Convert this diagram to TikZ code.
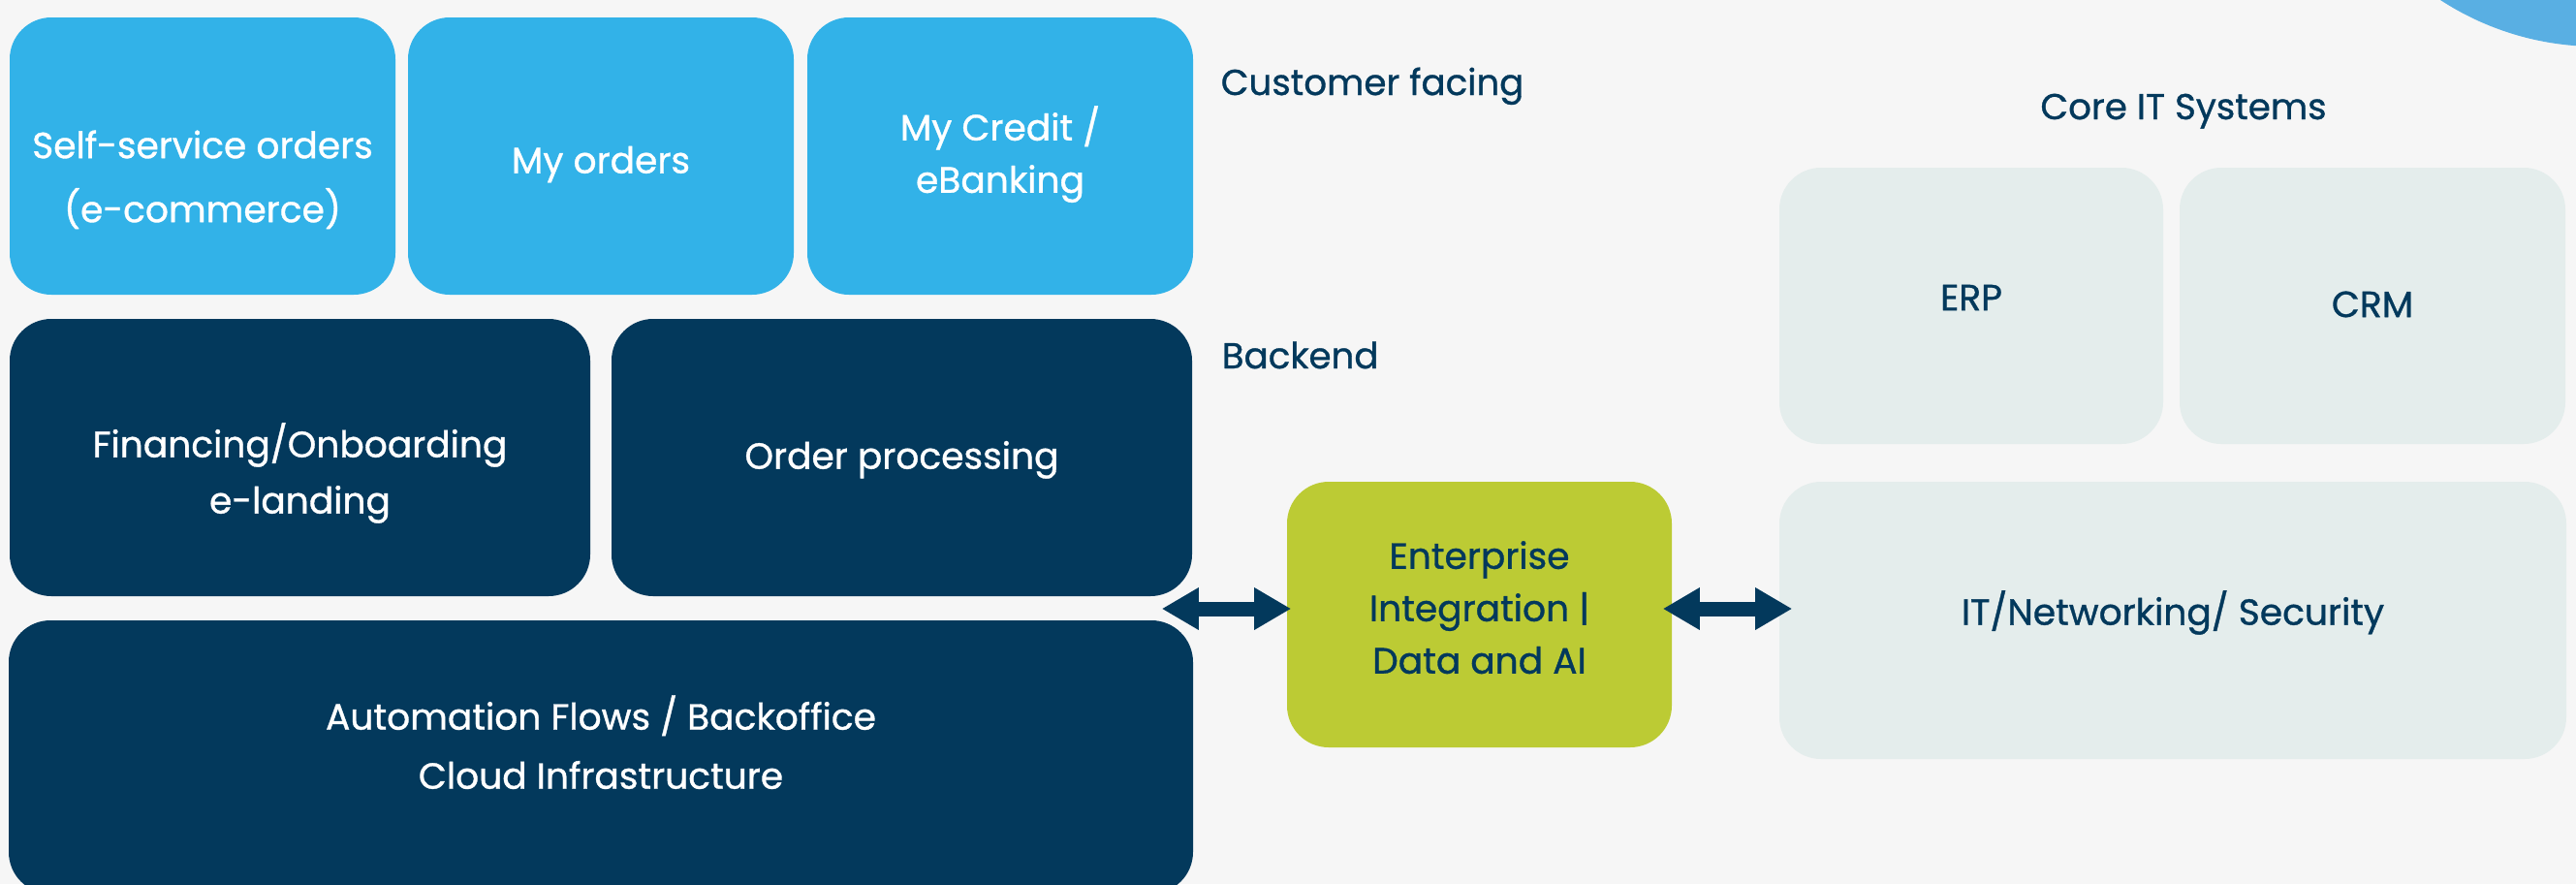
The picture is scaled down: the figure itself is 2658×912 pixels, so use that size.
\documentclass[tikz,border=0pt]{standalone}
\usepackage{fontspec}
\setmainfont{Poppins}[UprightFeatures={FakeBold=0.9}]
\usetikzlibrary{arrows.meta}
\definecolor{pagebg}{HTML}{F6F6F6}
\definecolor{skyblue}{HTML}{32B2E8}
\definecolor{navy}{HTML}{03395C}
\definecolor{lime}{HTML}{BCCB34}
\definecolor{mist}{HTML}{E4EDEC}
\definecolor{bubble}{HTML}{59AFE3}
\newcommand\boxtext[2]{\raisebox{#1}[\height][\depth]{\begin{tabular}{@{}c@{}}#2\end{tabular}}}
\tikzset{
  tile/.style={rounded corners=10.75pt, inner sep=0pt,
    font=\fontsize{9.4}{14.5}\selectfont},
  front/.style={tile, fill=skyblue, text=white, minimum width=99.5pt, minimum height=71.5pt},
  back/.style={tile, fill=navy, text=white, minimum height=71.5pt},
  hub/.style={tile, fill=lime, text=navy},
  core/.style={tile, fill=mist, text=navy},
  tag/.style={inner sep=0pt, text=navy, font=\fontsize{9.3}{12}\selectfont},
  link/.style={draw=navy, line width=3.75pt,
    {Triangle[length=9.5pt,width=10.25pt]}-{Triangle[length=9.5pt,width=10.25pt]}}
}
\begin{document}
\begin{tikzpicture}[x=0.25pt,y=-0.25pt]
\useasboundingbox (0,0) rectangle (2658,912);
\clip (0,0) rectangle (2658,912);
\fill[pagebg] (0,0) rectangle (2658,912);
\fill[bubble] (2680,-249) circle[radius=74.25pt];
\node[front, font=\fontsize{9.4}{16.5}\selectfont] (SelfService) at (209,161) {\boxtext{-5.5pt}{Self-service orders\\(e-commerce)}};
\node[front] (MyOrders) at (620,161) {\boxtext{-1.5pt}{My orders}};
\node[front, font=\fontsize{9.4}{13.5}\selectfont] (MyCredit) at (1032,161) {\boxtext{0pt}{My Credit /\\eBanking}};
\node[back, minimum width=149.75pt] (Financing) at (309.5,472) {\boxtext{-4.25pt}{Financing/Onboarding\\e-landing}};
\node[back, minimum width=149.75pt] (OrderProcessing) at (930.5,472) {\boxtext{0pt}{Order processing}};
\node[back, minimum width=305.5pt, minimum height=70.5pt, font=\fontsize{9.4}{15.25}\selectfont] (Automation) at (620,781) {\boxtext{2.5pt}{Automation Flows / Backoffice\\Cloud Infrastructure}};
\node[hub, minimum width=99.25pt, minimum height=68.5pt, font=\fontsize{9.4}{13.5}\selectfont] (Integration) at (1526.5,634) {\boxtext{1pt}{Enterprise\\Integration |\\Data and AI}};
\node[core, minimum width=99pt, minimum height=71.25pt] (ERP) at (2034,315.5) {\boxtext{1.75pt}{ERP}};
\node[core, minimum width=99.5pt, minimum height=71.25pt] (CRM) at (2448,315.5) {\boxtext{0pt}{CRM}};
\node[core, minimum width=203pt, minimum height=71.5pt] (Networking) at (2242,640) {\boxtext{1.75pt}{IT/Networking/ Security}};
\node[tag, anchor=base west] (CustomerFacing) at (1259,98) {Customer facing};
\node[tag, anchor=base west] (Backend) at (1260,380) {Backend};
\node[tag, anchor=base] (CoreIT) at (2253,123) {Core IT Systems};
\coordinate (ArrowRow) at (0,628);
\draw[link, shorten <=-8.25pt, shorten >=-1.25pt] (Automation.east |- ArrowRow) -- (Integration.west |- ArrowRow);
\draw[link, shorten <=-2.5pt, shorten >=-3.5pt] (Integration.east |- ArrowRow) -- (Networking.west |- ArrowRow);
\end{tikzpicture}
\end{document}
